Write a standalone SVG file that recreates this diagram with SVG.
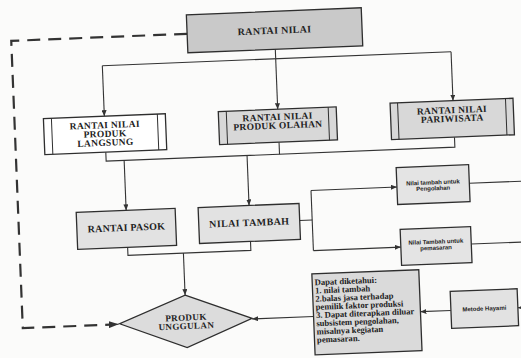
<svg xmlns="http://www.w3.org/2000/svg" width="521" height="358" viewBox="0 0 521 358">
  <style>
    .box { stroke: #2e2e2e; stroke-width: 1.3; }
    .inner { stroke: #2e2e2e; stroke-width: 1; fill: none; }
    .ln { fill: none; stroke: #333; stroke-width: 1.1; }
    .dash { fill: none; stroke: #333; stroke-width: 2.2; stroke-dasharray: 13 8; }
    .t { font-family: "Liberation Serif", "Times New Roman", serif; font-weight: bold; fill: #222; text-anchor: middle; }
    .s { font-family: "Liberation Sans", Arial, sans-serif; font-weight: bold; fill: #222; text-anchor: middle; font-size: 6px; }
    .b { font-family: "Liberation Serif", "Times New Roman", serif; font-weight: bold; fill: #222; font-size: 8.6px; }
  </style>
  <defs>
    <marker id="arr" markerUnits="userSpaceOnUse" markerWidth="6" markerHeight="5" refX="6" refY="2.5" orient="auto">
      <path d="M0,0 L6,2.5 L0,5 Z" fill="#333"/>
    </marker>
    <marker id="arrBig" markerUnits="userSpaceOnUse" markerWidth="10" markerHeight="7" refX="10" refY="3.5" orient="auto">
      <path d="M0,0 L10,3.5 L0,7 Z" fill="#333"/>
    </marker>
  </defs>
  <rect width="521" height="358" fill="#fbfbfa"/>
  <g transform="rotate(-2.3 260 179)">
    <!-- connectors -->
    <g id="connectors">
      <path class="dash" d="M193,31 H17 V318.5 H104"/>
      <path class="ln" d="M104,318.5 H113" marker-end="url(#arrBig)"/>
      <path class="ln" d="M280.5,50 V59.5"/>
      <path class="ln" d="M107,59.5 H456"/>
      <path class="ln" d="M107,59.5 V110" marker-end="url(#arr)"/>
      <path class="ln" d="M280.5,59.5 V110" marker-end="url(#arr)"/>
      <path class="ln" d="M456,59.5 V108.5" marker-end="url(#arr)"/>
      <path class="ln" d="M107,146 V155 H456 V145"/>
      <path class="ln" d="M280.5,143 V155"/>
      <path class="ln" d="M125,155 V205" marker-end="url(#arr)"/>
      <path class="ln" d="M248,155 V205" marker-end="url(#arr)"/>
      <path class="ln" d="M125,242 V250 H248 V241"/>
      <path class="ln" d="M180.5,250 V292" marker-end="url(#arr)"/>
      <path class="ln" d="M298,222 H310.5"/>
      <path class="ln" d="M310.5,192.5 V252.7"/>
      <path class="ln" d="M310.5,192.5 H396.5" marker-end="url(#arr)"/>
      <path class="ln" d="M310.5,252.7 H398" marker-end="url(#arr)"/>
      <path class="ln" d="M469,191.7 H532"/>
      <path class="ln" d="M468.5,252.5 H532"/>
      <path class="ln" d="M308,318.5 H246.5" marker-end="url(#arr)"/>
      <path class="ln" d="M445.5,318 H415" marker-end="url(#arr)"/>
      <path class="ln" d="M532,318 H512.5" marker-end="url(#arr)"/>
    </g>

    <g id="rantai-nilai">
      <rect class="box" x="193" y="12" width="175" height="38" fill="#c9c9c9"/>
      <text class="t" x="280.5" y="34.5" font-size="10" letter-spacing="0.3">RANTAI NILAI</text>
    </g>

    <g id="produk-langsung">
      <rect class="box" x="46" y="110" width="122" height="36" fill="#ffffff"/>
      <path class="inner" d="M54,110 V146 M160,110 V146"/>
      <text class="t" x="107" y="122" font-size="9.5" letter-spacing="0.3">RANTAI NILAI</text>
      <text class="t" x="107" y="130.8" font-size="9.5" letter-spacing="0.3">PRODUK</text>
      <text class="t" x="107" y="139.6" font-size="9.5" letter-spacing="0.3">LANGSUNG</text>
    </g>

    <g id="produk-olahan">
      <rect class="box" x="221" y="110" width="118" height="33" fill="#d8d8d8"/>
      <path class="inner" d="M229,110 V143 M331,110 V143"/>
      <text class="t" x="280" y="120.8" font-size="9.5" letter-spacing="0.3">RANTAI NILAI</text>
      <text class="t" x="280" y="129.4" font-size="9.5" letter-spacing="0.3">PRODUK OLAHAN</text>
    </g>

    <g id="pariwisata">
      <rect class="box" x="393" y="108.5" width="123" height="36.5" fill="#d8d8d8"/>
      <path class="inner" d="M400.5,108.5 V145 M508.5,108.5 V145"/>
      <text class="t" x="454.5" y="121" font-size="9.5" letter-spacing="0.3">RANTAI NILAI</text>
      <text class="t" x="454.5" y="129.5" font-size="9.5" letter-spacing="0.3">PARIWISATA</text>
    </g>

    <g id="rantai-pasok">
      <rect class="box" x="75" y="205" width="99" height="37" fill="#e2e2e2"/>
      <text class="t" x="124.5" y="225.5" font-size="10" letter-spacing="0.2">RANTAI PASOK</text>
    </g>

    <g id="nilai-tambah">
      <rect class="box" x="197" y="205" width="101" height="36" fill="#e2e2e2"/>
      <text class="t" x="247.5" y="225.5" font-size="10" letter-spacing="0.4">NILAI TAMBAH</text>
    </g>

    <g id="produk-unggulan">
      <polygon class="box" points="180.5,292 246.5,318 180.5,344.5 114,318" fill="#dcdcdc"/>
      <text class="t" x="180.5" y="317.5" font-size="9" letter-spacing="0.4">PRODUK</text>
      <text class="t" x="180.5" y="326" font-size="9" letter-spacing="0.4">UNGGULAN</text>
    </g>

    <g id="nt-pengolahan">
      <rect class="box" x="396.5" y="173" width="72.5" height="37" fill="#e4e4e4"/>
      <text class="s" x="432.7" y="191.3">Nilai tambah untuk</text>
      <text class="s" x="432.7" y="197.3">Pengolahan</text>
    </g>

    <g id="nt-pemasaran">
      <rect class="box" x="398" y="235" width="70.5" height="36" fill="#e4e4e4"/>
      <text class="s" x="433.2" y="250.7">Nilai Tambah untuk</text>
      <text class="s" x="433.2" y="256.8">pemasaran</text>
    </g>

    <g id="dapat-diketahui">
      <rect class="box" x="308" y="276" width="107" height="81" fill="#dadada"/>
      <text class="b" x="310.5" y="287.4">Dapat diketahui:</text>
      <text class="b" x="310.5" y="295.6">1. nilai tambah</text>
      <text class="b" x="310.5" y="303.8">2.balas jasa terhadap</text>
      <text class="b" x="310.5" y="312">pemilik faktor produksi</text>
      <text class="b" x="310.5" y="320.2">3. Dapat diterapkan diluar</text>
      <text class="b" x="310.5" y="328.4">subsistem pengolahan,</text>
      <text class="b" x="310.5" y="336.6">misalnya kegiatan</text>
      <text class="b" x="310.5" y="344.8">pemasaran.</text>
    </g>

    <g id="metode-hayami">
      <rect class="box" x="445.5" y="299" width="67" height="37" fill="#e2e2e2"/>
      <text class="s" x="479" y="319.5" font-size="5.5">Metode Hayami</text>
    </g>
  </g>
</svg>
